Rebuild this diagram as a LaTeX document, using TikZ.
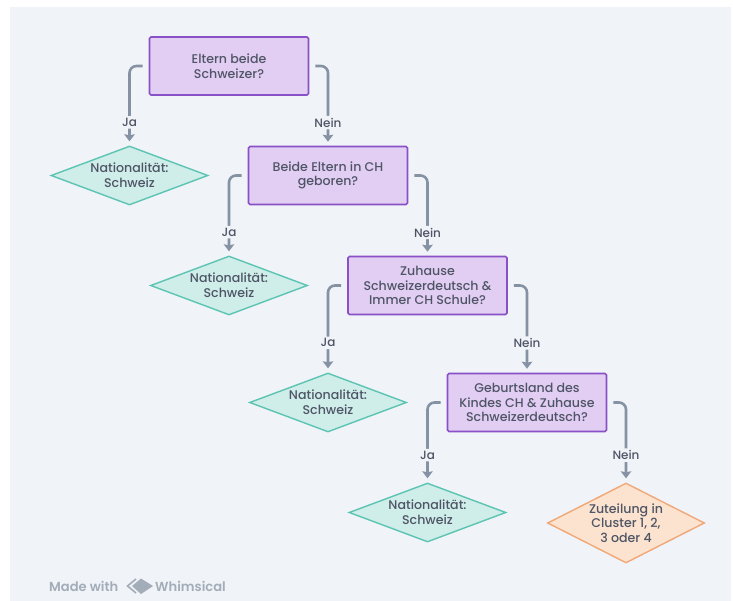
\documentclass[tikz,border=0pt]{standalone}
\usepackage{fontspec}
\setmainfont{Poppins}[BoldFont=Poppins Medium]
\newfontfamily\brandfont{Poppins SemiBold}
\usetikzlibrary{shapes.geometric,arrows.meta}
\definecolor{bgc}{HTML}{F0F3F7}
\definecolor{purf}{HTML}{E2CEF3}
\definecolor{purd}{HTML}{8A50C8}
\definecolor{tealf}{HTML}{CFEDE9}
\definecolor{teald}{HTML}{5CC4B2}
\definecolor{oraf}{HTML}{FBE3CF}
\definecolor{orad}{HTML}{F0A878}
\definecolor{txt}{HTML}{4F5566}
\definecolor{conn}{HTML}{8592A3}
\definecolor{brandgrey}{HTML}{A3ADB9}
\tikzset{
 x=1pt,y=-1pt,
 every node/.style={font=\fontsize{12.6}{14.6}\selectfont\bfseries,text=txt,align=center,inner sep=0pt},
 question/.style={draw=purd,fill=purf,line width=1.6pt,rounded corners=1.5pt,minimum width=159pt,minimum height=58pt},
 outcome/.style={diamond,draw=teald,fill=tealf,line width=1.4pt,aspect=2.67,minimum width=157pt,minimum height=59pt,inner sep=0pt},
 cluster/.style={diamond,draw=orad,fill=oraf,line width=1.4pt,aspect=1.96,minimum width=157pt,minimum height=80pt,inner sep=0pt},
 link/.style={draw=conn,line width=2.6pt,rounded corners=7pt,shorten >=4pt,-{Stealth[length=7pt,width=10.5pt,inset=1pt]}},
 lab/.style={fill=bgc,inner sep=2pt,inner ysep=2pt,text=txt,font=\fontsize{12}{12}\selectfont\bfseries},
 brand/.style={anchor=west,text=brandgrey,font=\fontsize{13.1}{14}\brandfont},
}
\begin{document}
\begin{tikzpicture}
\useasboundingbox (0,0) rectangle (733,601);
\fill[white] (0,0) rectangle (733,601);
\fill[bgc] (10,7) rectangle (731,601);
\node[question] (b1) at (229,66) {Eltern beide\\Schweizer?};
\node[question] (b2) at (328,175.5) {Beide Eltern in CH\\geboren?};
\node[question] (b3) at (427.5,285.5) {Zuhause\\Schweizerdeutsch \&\\Immer CH Schule?};
\node[question] (b4) at (527,402.5) {Geburtsland des\\Kindes CH \& Zuhause\\Schweizerdeutsch?};
\node[outcome] (d1) at (129.5,175.5) {Nationalität:\\Schweiz};
\node[outcome] (d2) at (229,285.5) {Nationalität:\\Schweiz};
\node[outcome] (d3) at (328,402.5) {Nationalität:\\Schweiz};
\node[outcome] (d4) at (427.5,512.5) {Nationalität:\\Schweiz};
\node[cluster,label={center:{Zuteilung in\\Cluster 1, 2,\\3 oder 4}}] (c) at (626,523) {};
\draw[link] ([xshift=-6pt]b1.west) -| node[lab,pos=.855]{Ja} (d1.north);
\draw[link] ([xshift=6pt]b1.east) -| node[lab,pos=.855]{Nein} (b2.north);
\draw[link] ([xshift=-6pt]b2.west) -| node[lab,pos=.855]{Ja} (d2.north);
\draw[link] ([xshift=6pt]b2.east) -| node[lab,pos=.855]{Nein} (b3.north);
\draw[link] ([xshift=-6pt]b3.west) -| node[lab,pos=.83]{Ja} (d3.north);
\draw[link] ([xshift=6pt]b3.east) -| node[lab,pos=.83]{Nein} (b4.north);
\draw[link] ([xshift=-6pt]b4.west) -| node[lab,pos=.83]{Ja} (d4.north);
\draw[link] ([xshift=6pt]b4.east) -| node[lab,pos=.83]{Nein} (c.north);
\node[brand] (m) at (49,586) {Made with};
\node[brand] (w) at (155,586) {Whimsical};
\draw[brandgrey,line width=1.6pt] (136,579) -- (127.5,586) -- (136,593);
\fill[brandgrey] (141,578.5) -- (153,586) -- (141,594) -- (132,586) -- cycle;
\end{tikzpicture}
\end{document}
